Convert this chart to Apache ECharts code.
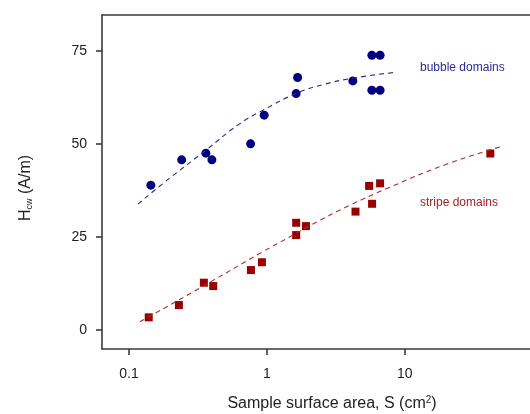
<!DOCTYPE html>
<html>
<head>
<meta charset="utf-8">
<script src="https://cdn.jsdelivr.net/npm/echarts@6/dist/echarts.min.js"></script>
<style>
  html, body { margin: 0; padding: 0; background: #fff; }
  #main { width: 530px; height: 414px; }
</style>
</head>
<body>
<div id="main"></div>
<script>
// 数据
var bubbleS = [0.144, 0.241, 0.361, 0.399, 0.762, 0.956, 1.67, 1.63, 4.2, 5.77, 6.62, 5.77, 6.62];
var bubbleH = [38.9, 45.7, 47.5, 45.7, 50.0, 57.7, 67.8, 63.5, 66.9, 73.8, 73.8, 64.4, 64.4];
var stripeS = [0.139, 0.230, 0.349, 0.408, 0.766, 0.920, 1.63, 1.63, 1.92, 4.39, 5.51, 6.62, 5.79, 41.7];
var stripeH = [3.4, 6.7, 12.7, 11.8, 16.1, 18.2, 28.8, 25.5, 27.9, 31.8, 38.7, 39.4, 33.9, 47.4];

// dashed fit curves
var bubbleFitS = [0.116, 0.177, 0.361, 0.63, 0.944, 1.65, 2.5, 4.0, 8.5];
var bubbleFitH = [33.8, 39.4, 48.3, 55.3, 59.1, 63.6, 65.8, 67.5, 69.2];
var stripeFitS = [0.120, 0.338, 0.92, 1.48, 2.06, 4.0, 7.41, 20, 50.5];
var stripeFitH = [2.2, 11.6, 20.9, 25.1, 28.1, 33.5, 38.0, 44.5, 49.3];

var xTicks = [0.1, 1, 10];
var yTicks = [0, 25, 50, 75];

function pairs(xs, ys) {
    var out = [];
    for (var i = 0; i < xs.length; i++) out.push([xs[i], ys[i]]);
    return out;
}

var font = 'Liberation Sans, Arial, sans-serif';
var axisColor = '#3a3a3a';
var axisLineStyle = { color: axisColor, width: 1.6 };

var myChart = echarts.init(document.getElementById('main'));

var option = {
    animation: false,
    grid: { left: 102, top: 15, right: 0, bottom: 65 },
    xAxis: [
        {
            type: 'log',
            min: 0.0637, max: 80.9,
            axisLine: { show: true, onZero: false, lineStyle: axisLineStyle },
            axisTick: { show: true, customValues: xTicks, length: 6, lineStyle: axisLineStyle },
            axisLabel: {
                customValues: xTicks, margin: 18, color: '#222', fontSize: 14, fontFamily: font,
                formatter: function (v) { return String(v); }
            },
            splitLine: { show: false }
        },
        {
            // top frame line only
            type: 'log', position: 'top',
            min: 0.0637, max: 80.9,
            axisLine: { show: true, onZero: false, lineStyle: axisLineStyle },
            axisTick: { show: false }, axisLabel: { show: false }, splitLine: { show: false }
        }
    ],
    yAxis: {
        type: 'value',
        min: -5.1, max: 84.6,
        axisLine: { show: true, onZero: false, lineStyle: axisLineStyle },
        axisTick: { show: true, customValues: yTicks, length: 6, lineStyle: axisLineStyle },
        axisLabel: { customValues: yTicks, margin: 15, color: '#222', fontSize: 14, fontFamily: font },
        splitLine: { show: false }
    },
    graphic: [
        {
            type: 'text', x: 26, y: 188, rotation: Math.PI / 2,
            style: {
                text: '{a|H}{b|cw}{a| (A/m)}',
                align: 'center', verticalAlign: 'middle',
                fill: '#222', font: '16px ' + font,
                rich: {
                    a: { fontSize: 16, fontFamily: font, fill: '#222' },
                    b: { fontSize: 9, fontFamily: font, fill: '#222', verticalAlign: 'bottom', padding: [8, 0, 0, 0] }
                }
            }
        },
        {
            type: 'text', x: 332, y: 404,
            style: {
                text: '{a|Sample surface area, S (cm}{b|2}{a|)}',
                align: 'center', verticalAlign: 'middle',
                fill: '#222', font: '16px ' + font,
                rich: {
                    a: { fontSize: 16, fontFamily: font, fill: '#222' },
                    b: { fontSize: 10, fontFamily: font, fill: '#222', verticalAlign: 'top', padding: [0, 0, 8, 0] }
                }
            }
        },
        {
            type: 'text', x: 420, y: 68,
            style: { text: 'bubble domains', fill: '#2a2a96', font: '12px ' + font, verticalAlign: 'middle' }
        },
        {
            type: 'text', x: 420, y: 203,
            style: { text: 'stripe domains', fill: '#a02424', font: '12px ' + font, verticalAlign: 'middle' }
        }
    ],
    series: [
        {
            type: 'line', data: pairs(bubbleFitS, bubbleFitH), smooth: true, showSymbol: false,
            lineStyle: { color: '#2a2a9a', width: 1.1, type: [5, 4] }, silent: true
        },
        {
            type: 'line', data: pairs(stripeFitS, stripeFitH), smooth: true, showSymbol: false,
            lineStyle: { color: '#b02a2a', width: 1.1, type: [5, 4] }, silent: true
        },
        {
            type: 'scatter', data: pairs(bubbleS, bubbleH), symbol: 'circle', symbolSize: 9,
            itemStyle: { color: '#000080', opacity: 1 }
        },
        {
            type: 'scatter', data: pairs(stripeS, stripeH), symbol: 'rect', symbolSize: 8,
            itemStyle: { color: '#990000', opacity: 1 }
        }
    ]
};

myChart.setOption(option);
</script>
</body>
</html>
